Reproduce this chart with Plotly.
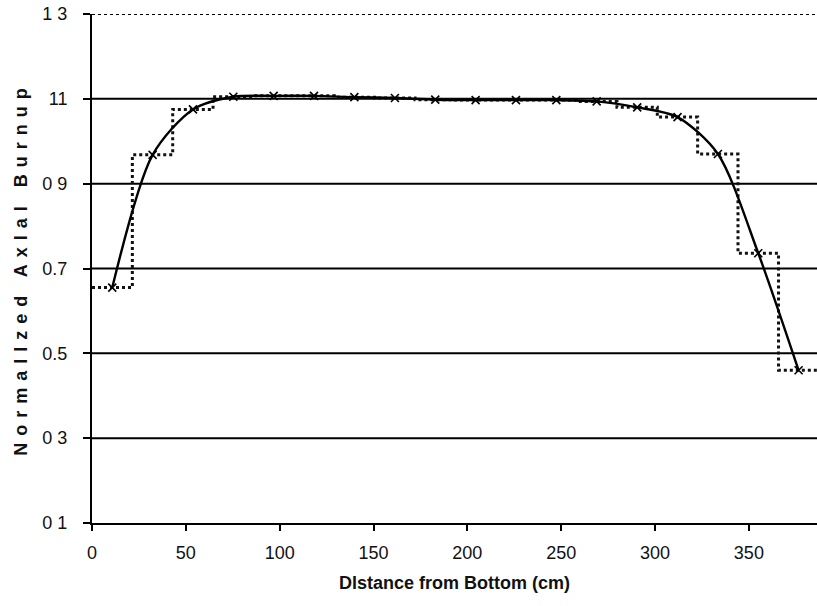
import plotly.graph_objects as go

# Node boundaries (cm) and node-averaged normalized burnup (step profile)
node_edges = [0, 21.5, 43.0, 64.5, 86.1, 107.6, 129.1, 150.6, 172.1, 193.6,
              215.2, 236.7, 258.2, 279.7, 301.2, 322.7, 344.2, 365.8, 387.3]
node_values = [0.655, 0.968, 1.075, 1.105, 1.107, 1.107, 1.104, 1.102, 1.098,
               1.097, 1.097, 1.097, 1.094, 1.080, 1.057, 0.970, 0.736, 0.460]

# Node centres (cm) and the smooth axial profile through them
center_x = [10.8, 32.3, 53.8, 75.3, 96.8, 118.3, 139.8, 161.4, 182.9, 204.4,
            225.9, 247.4, 268.9, 290.5, 312.0, 333.5, 355.0, 376.5]
center_y = [0.655, 0.968, 1.075, 1.105, 1.107, 1.107, 1.104, 1.102, 1.098,
            1.097, 1.097, 1.097, 1.094, 1.080, 1.057, 0.970, 0.736, 0.460]

x_ticks = [0, 50, 100, 150, 200, 250, 300, 350]
y_ticks = [0.1, 0.3, 0.5, 0.7, 0.9, 1.1, 1.3]
y_tick_text = ["0 1", "0 3", "0.5", "0.7", "0 9", "11", "1 3"]

x_title = "Dlstance from Bottom (cm)"
y_title = "Normallzed Axlal Burnup"

fig = go.Figure()

fig.add_trace(go.Scatter(
    x=node_edges, y=node_values + [node_values[-1]],
    mode="lines", line=dict(shape="hv", color="#111", width=3, dash="dot"),
    showlegend=False, hoverinfo="skip"))

fig.add_trace(go.Scatter(
    x=center_x, y=center_y, mode="lines+markers",
    line=dict(shape="spline", smoothing=0.8, color="#000", width=2.4),
    marker=dict(symbol="x-thin", size=8, line=dict(color="#000", width=1.6)),
    showlegend=False))

shapes = []
for v in y_ticks[1:]:
    shapes.append(dict(type="line", xref="paper", yref="y", x0=0, x1=1, y0=v, y1=v,
                       line=dict(color="#000", width=2,
                                 dash="dot" if v == y_ticks[-1] else "solid"),
                       layer="below"))

font_main = "Liberation Sans, Arial, Helvetica, sans-serif"
fig.update_layout(
    width=817, height=606,
    margin=dict(l=92, r=0, t=14, b=83),
    paper_bgcolor="white", plot_bgcolor="white",
    shapes=shapes,
    font=dict(family=font_main, color="#111", size=18),
    xaxis=dict(range=[0, 386.3], tickvals=x_ticks, showgrid=False, zeroline=False,
               automargin=False,
               showline=True, linecolor="#000", linewidth=2,
               ticks="outside", ticklen=6, tickwidth=1.5, tickcolor="#000",
               ticklabelstandoff=6, tickfont=dict(size=18),
               title=dict(text="<b>" + x_title + "</b>", font=dict(size=18), standoff=15)),
    yaxis=dict(range=[0.1, 1.3], tickvals=y_ticks, ticktext=y_tick_text,
               showgrid=False, zeroline=False, automargin=False,
               ticklabeloverflow="allow",
               showline=True, linecolor="#000", linewidth=2,
               ticks="outside", ticklen=7, tickwidth=1.5, tickcolor="#000",
               ticklabelstandoff=12, tickfont=dict(size=18),
               title=dict(text="<b><span style='letter-spacing:7px'>" + y_title + "</span></b>",
                          font=dict(size=18), standoff=10)),
)

fig.write_html("out.html", config={"displayModeBar": False},
               post_script="document.body.style.margin='0';document.body.style.overflow='hidden';")
